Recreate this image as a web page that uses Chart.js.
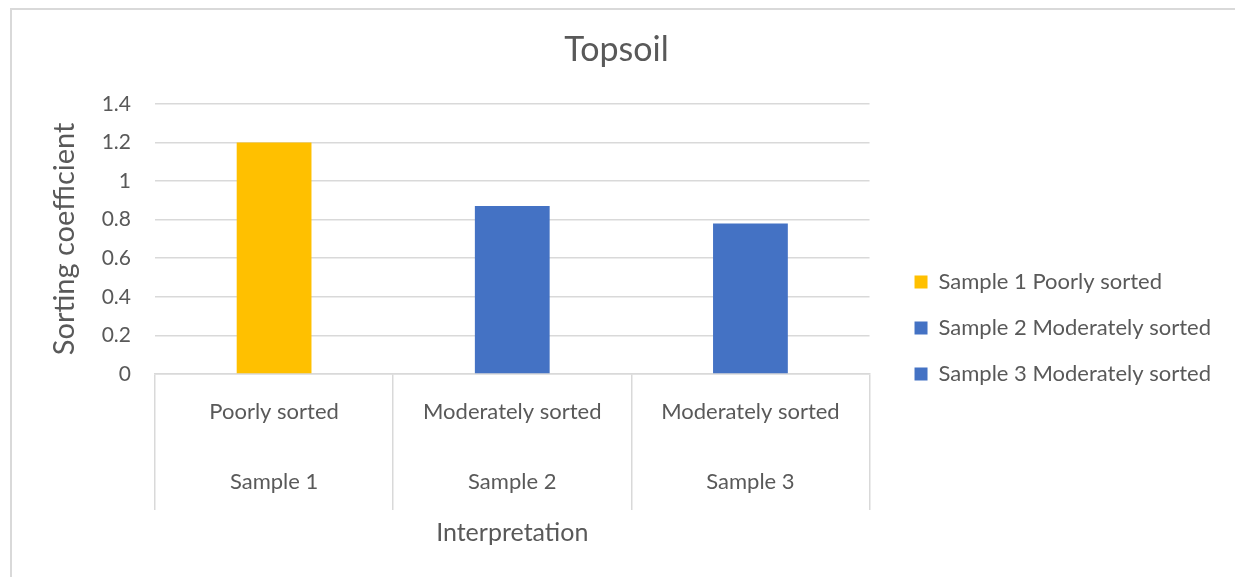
<!DOCTYPE html>
<html>
<head>
<meta charset="utf-8">
<script src="https://cdn.jsdelivr.net/npm/chart.js@4.4.1/dist/chart.umd.min.js"></script>
<style>
  html, body { margin: 0; padding: 0; background: #fff; overflow: hidden; }
  #marco {
    position: absolute; left: 10px; top: 8px; width: 1225px; height: 569px;
    box-sizing: border-box; border-left: 2px solid #d9d9d9; border-top: 2px solid #d9d9d9;
  }
</style>
</head>
<body>
<div id="marco"><canvas id="grafico"></canvas></div>
<script>
// --- Datos ---
const muestras = ['Sample 1', 'Sample 2', 'Sample 3'];
const interpretaciones = ['Poorly sorted', 'Moderately sorted', 'Moderately sorted'];
const coeficientes = [1.2, 0.87, 0.78];
const colores = ['#FFC000', '#4472C4', '#4472C4'];
const ejeY = { min: 0, max: 1.4, paso: 0.2 };

const fuente = 'Lato, "Liberation Sans", sans-serif';
const gris = '#595959';
const linea = '#d9d9d9';

// etiquetas de dos niveles: interpretación arriba, muestra abajo
const etiquetas = muestras.map((m, i) => [interpretaciones[i], m]);

new Chart(document.getElementById('grafico'), {
  type: 'bar',
  data: {
    labels: etiquetas,
    datasets: [{
      label: 'Topsoil',
      data: coeficientes,
      backgroundColor: colores,
      borderWidth: 0,
      barPercentage: 0.314,
      categoryPercentage: 1
    }]
  },
  options: {
    responsive: true,
    maintainAspectRatio: false,
    animation: false,
    layout: { padding: { top: 0, right: 14, bottom: 0, left: 0 } },
    plugins: {
      title: {
        display: true,
        text: 'Topsoil',
        color: gris,
        font: { family: fuente, size: 34, weight: 'normal' },
        padding: { top: 20, bottom: 33 }
      },
      legend: {
        position: 'right',
        align: 'center',
        maxWidth: 400,
        // título vacío solo para bajar la leyenda
        title: { display: true, text: '', padding: { top: 59, bottom: 0 }, font: { size: 10, lineHeight: 1 } },
        labels: {
          boxWidth: 13,
          boxHeight: 13,
          padding: 24,
          color: gris,
          font: { family: fuente, size: 22 },
          generateLabels: () => muestras.map((m, i) => ({
            text: m + ' ' + interpretaciones[i],
            fillStyle: colores[i],
            strokeStyle: colores[i],
            lineWidth: 0,
            fontColor: gris,
            hidden: false,
            index: i
          }))
        }
      },
      tooltip: { enabled: false }
    },
    scales: {
      x: {
        grid: { display: true, drawOnChartArea: false, drawTicks: true, tickLength: 136, color: linea, lineWidth: 1.5, offset: true },
        border: { display: true, color: linea, width: 1.5 },
        ticks: { padding: -133, color: gris, autoSkip: false, maxRotation: 0, font: { family: fuente, size: 22, lineHeight: '70px' } },
        title: { display: true, text: 'Interpretation', color: gris, font: { family: fuente, size: 25 }, padding: { top: 3, bottom: 29 } },
        afterFit(s) { s.height = 203; }
      },
      y: {
        min: ejeY.min,
        max: ejeY.max,
        ticks: { stepSize: ejeY.paso, padding: 24, color: gris, font: { family: fuente, size: 21 }, callback: v => String(+v.toFixed(2)) },
        grid: { color: linea, lineWidth: 1.5, drawTicks: false },
        border: { display: false },
        title: { display: true, text: 'Sorting coefficient', color: gris, font: { family: fuente, size: 29 }, padding: { top: 35, bottom: 0 } },
        afterFit(s) { s.width = 143; }
      },
      // hueco entre el área de trazado y la leyenda
      hueco: {
        type: 'linear',
        position: 'right',
        display: true,
        grid: { display: false },
        border: { display: false },
        ticks: { display: false },
        afterFit(s) { s.width = 21; }
      }
    }
  }
});
</script>
</body>
</html>
